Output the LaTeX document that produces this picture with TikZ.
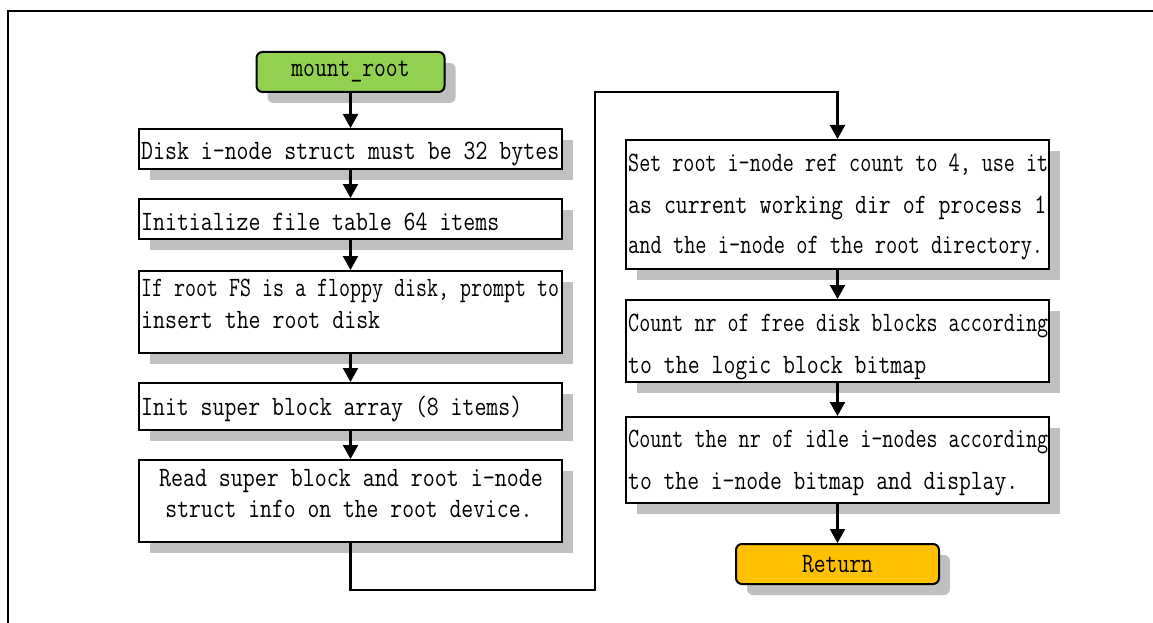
\documentclass[tikz,border=0pt]{standalone}
\usepackage{fontspec}
\usepackage{graphicx}
\newfontfamily\mono{Latin Modern Mono}[FakeStretch=0.82]
\usetikzlibrary{shadows,arrows.meta}
\definecolor{shgray}{RGB}{191,191,191}
\definecolor{startgreen}{RGB}{146,208,80}
\definecolor{retorange}{RGB}{255,192,0}
\newcommand{\sqline}[2]{\resizebox{#1}{\height}{#2}}
\begin{document}
\begin{tikzpicture}[x=1pt,y=-1pt,
  shd/.style={drop shadow={shadow xshift=11pt,shadow yshift=-11pt,fill=shgray,opacity=1}},
  box/.style={draw,line width=2pt,fill=white,rectangle,inner sep=0pt,minimum width=423pt,shd},
  term/.style={draw,line width=2pt,rounded corners=6pt,inner sep=0pt,shd,
    font=\mono\fontsize{28}{32}\selectfont,minimum height=40pt},
  txt/.style={font=\mono\fontsize{28}{32}\selectfont,inner sep=0pt,anchor=base west},
  ctxt/.style={txt,anchor=base},
  arr/.style={line width=2.2pt,-{Triangle[length=14pt,width=15pt]}},
  frame/.style={line width=2.5pt}]
\useasboundingbox (0,0) rectangle (1153,623);
\draw[frame] (8,623) -- (8,11) -- (1153,11);

% left column
\node[term,fill=startgreen,minimum width=188pt] (start) at (350.5,72) {mount\_root};
\node[box,minimum height=40pt] (b1) at (350.5,149) {};
\node[txt] (t1) at (141,160) {\sqline{418pt}{Disk i-node struct must be 32 bytes}};
\node[box,minimum height=40pt] (b2) at (350.5,219) {};
\node[txt] (t2) at (141,230) {\sqline{358pt}{Initialize file table 64 items}};
\node[box,minimum height=82pt] (b3) at (350.5,312) {};
\node[txt] (t3a) at (141,296) {\sqline{418pt}{If root FS is a floppy disk, prompt to}};
\node[txt] (t3b) at (141,328) {\sqline{239pt}{insert the root disk}};
\node[box,minimum height=47pt] (b4) at (350.5,406.5) {};
\node[txt] (t4) at (141,415) {\sqline{381pt}{Init super block array (8 items)}};
\node[box,minimum height=82pt] (b5) at (350.5,501) {};
\node[ctxt] (t5a) at (351,486) {\sqline{384pt}{Read super block and root i-node}};
\node[ctxt] (t5b) at (349,517) {\sqline{367pt}{struct info on the root device.}};

% right column
\node[box,minimum height=129pt] (b6) at (837.5,204.5) {};
\node[txt] (t6a) at (628,171) {\sqline{420pt}{Set root i-node ref count to 4, use it}};
\node[txt] (t6b) at (628,213) {\sqline{418pt}{as current working dir of process 1}};
\node[txt] (t6c) at (628,253) {\sqline{415pt}{and the i-node of the root directory.}};
\node[box,minimum height=82pt] (b7) at (837.5,341) {};
\node[txt] (t7a) at (628,331) {\sqline{420pt}{Count nr of free disk blocks according}};
\node[txt] (t7b) at (628,373) {\sqline{298pt}{to the logic block bitmap}};
\node[box,minimum height=86pt] (b8) at (837.5,460) {};
\node[txt] (t8a) at (628,447) {\sqline{420pt}{Count the nr of idle i-nodes according}};
\node[txt] (t8b) at (628,489) {\sqline{390pt}{to the i-node bitmap and display.}};
\node[term,fill=retorange,minimum width=203pt] (ret) at (837.5,564) {Return};

% connectors
\draw[arr] (start.south) -- (b1.north);
\draw[arr] (b1.south) -- (b2.north);
\draw[arr] (b2.south) -- (b3.north);
\draw[arr] (b3.south) -- (b4.north);
\draw[arr] (b4.south) -- (b5.north);
\coordinate (k1) at (595,590);
\coordinate (k2) at (595,92);
\draw[arr] (b5.south) |- (k1) -- (k2) -| (b6.north);
\draw[arr] (b6.south) -- (b7.north);
\draw[arr] (b7.south) -- (b8.north);
\draw[arr] (b8.south) -- (ret.north);
\end{tikzpicture}
\end{document}
